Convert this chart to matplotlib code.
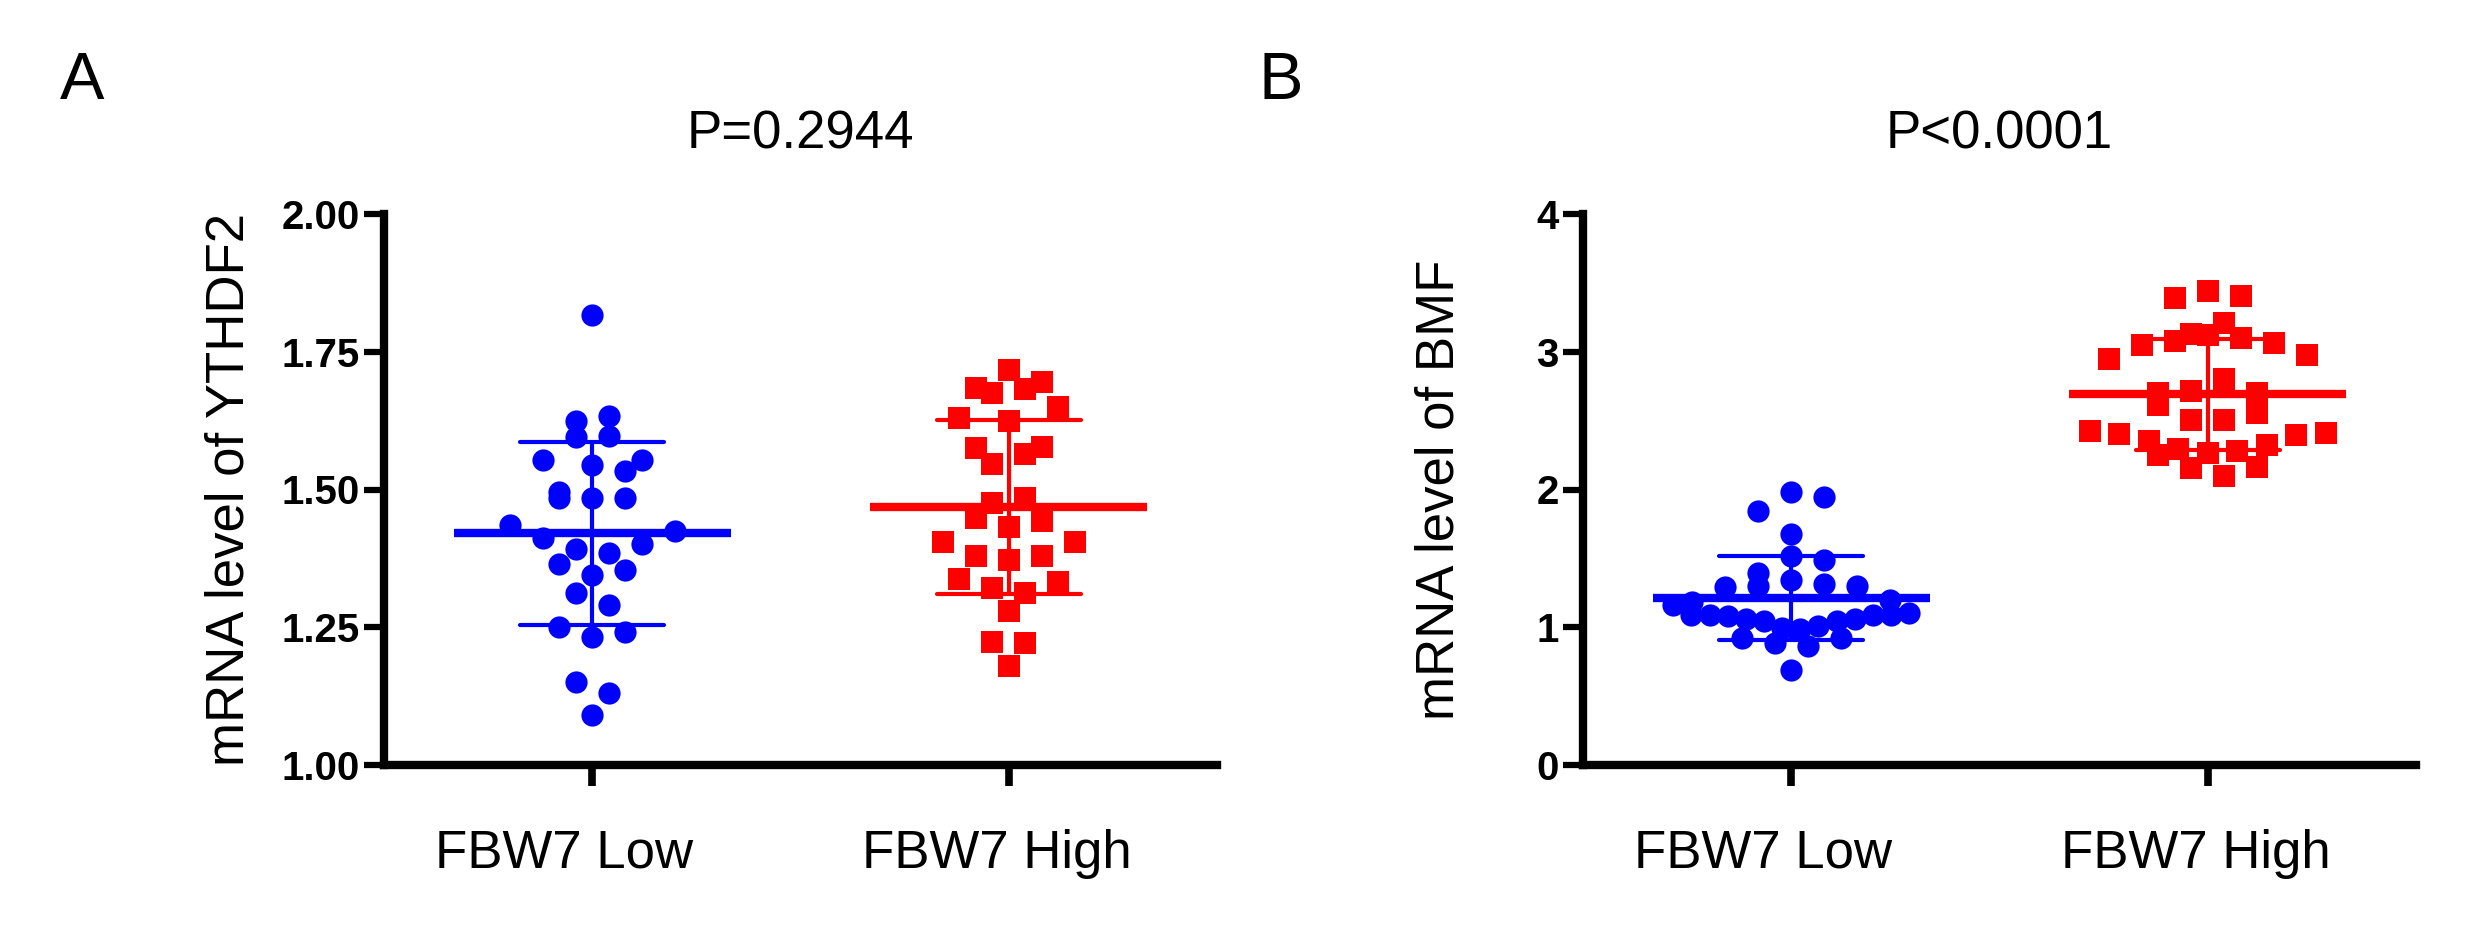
import numpy as np
import matplotlib
matplotlib.use("Agg")
import matplotlib.pyplot as plt
from matplotlib.transforms import ScaledTranslation

plt.rcParams['font.family'] = ['Liberation Sans', 'DejaVu Sans']

#------------------------------------------------------------------------------
# values
groups = ['FBW7 Low', 'FBW7 High']

a_low = [1.817, 1.625, 1.633, 1.595, 1.597, 1.554, 1.554, 1.534, 1.544, 1.484,
         1.484, 1.484, 1.495, 1.435, 1.412, 1.425, 1.392, 1.401, 1.384, 1.364,
         1.353, 1.344, 1.313, 1.291, 1.242, 1.232, 1.251, 1.150, 1.130, 1.090]
a_high = [1.717, 1.675, 1.684, 1.695, 1.683, 1.650, 1.630, 1.624, 1.575, 1.577,
          1.564, 1.546, 1.485, 1.476, 1.449, 1.443, 1.432, 1.405, 1.405, 1.380,
          1.372, 1.379, 1.333, 1.338, 1.312, 1.321, 1.280, 1.223, 1.221, 1.179]

b_low = [1.983, 1.947, 1.847, 1.680, 1.486, 1.515, 1.394, 1.341, 1.297, 1.292,
         1.297, 1.316, 1.195, 1.181, 1.164, 1.091, 1.086, 1.079, 1.062, 1.042,
         0.994, 0.987, 1.006, 1.042, 1.062, 1.086, 1.091, 1.103, 0.921, 0.885,
         0.865, 0.921, 0.691]
b_high = [3.406, 3.389, 3.438, 3.207, 3.132, 3.103, 3.067, 3.047, 3.076, 3.120,
          2.975, 2.950, 2.800, 2.703, 2.703, 2.713, 2.612, 2.558, 2.504, 2.502,
          2.412, 2.393, 2.355, 2.400, 2.424, 2.296, 2.267, 2.247, 2.279, 2.320,
          2.158, 2.100, 2.160]

a_ticks = [1.00, 1.25, 1.50, 1.75, 2.00]
b_ticks = [0, 1, 2, 3, 4]

a_title = 'P=0.2944'
b_title = 'P<0.0001'
a_ylabel = 'mRNA level of YTHDF2'
b_ylabel = 'mRNA level of BMF'

BLUE = '#0000ff'
RED = '#ff0000'

#------------------------------------------------------------------------------
W, H = 2480, 948

def rect(left, right, top, bottom):
    return [left / W, 1 - bottom / H, (right - left) / W, (bottom - top) / H]

def swarm( vals, px_y, px_x, d=22.0, half_width=118.0 ):
    # GraphPad-like spreading: rows of a fixed pixel height around the
    # median, points in a row laid out from the centre outward
    v = np.asarray(vals, float)
    h = 30.0 / px_y
    edge = np.median(v) - 0.64 * h
    rows = np.floor((v - edge) / h).astype(int)
    m = v.mean()
    off = np.zeros(len(v))
    for r in np.unique(rows):
        idx = np.where(rows == r)[0]
        if v[idx].mean() >= m:
            idx = idx[np.argsort(-v[idx], kind='stable')]
        else:
            idx = idx[np.argsort(v[idx], kind='stable')]
        n = len(idx)
        step = 1.5 * d
        if n > 1:
            step = min(step, 2 * half_width / (n - 1))
        base = 0.0 if n % 2 else 0.5
        slots = []
        k = 0
        while len(slots) < n:
            if base == 0.0 and k == 0:
                slots.append(0.0)
            else:
                slots.append(base + k)
                slots.append(-(base + k))
            k += 1
        for j, i in enumerate(idx):
            off[i] = slots[j] * step
    return off / px_x

def panel( ax, lo, hi, ylim, ticks, fmt, title, label_x, ylabel ):
    px_x = ax_w / 2.0
    px_y = ax_h / (ylim[1] - ylim[0])
    for x, vals, col, mk in [(0, lo, BLUE, 'o'), (1, hi, RED, 's')]:
        vals = np.asarray(vals)
        off = swarm(vals, px_y, px_x)
        ax.scatter(x + off, vals, s=16**2, marker=mk, color=col,
                   linewidths=0, zorder=3, clip_on=False)
        m = vals.mean()
        sd = vals.std(ddof=1)
        ax.hlines(m, x - 0.333, x + 0.333, color=col, lw=6, zorder=4)
        ax.vlines(x, m - sd, m + sd, color=col, lw=3, zorder=4)
        c = ax.hlines([m - sd, m + sd], x - 0.173, x + 0.173, color=col,
                      lw=3, zorder=4)
        c.set_capstyle('round')

    ax.set_xlim(-0.5, 1.5)
    ax.set_ylim(*ylim)
    for s in ['top', 'right']:
        ax.spines[s].set_visible(False)
    for s in ['left', 'bottom']:
        ax.spines[s].set_linewidth(6)
        ax.spines[s].set_capstyle('projecting')

    ax.set_yticks(ticks, labels=[fmt % t for t in ticks],
                  fontsize=29, fontweight='bold')
    ax.set_xticks([0, 1], labels=groups, fontsize=38)
    ax.tick_params(axis='y', length=14.5, width=4.5, pad=3)
    ax.tick_params(axis='x', length=15, width=5.5, pad=31)
    for lbl, dx in zip(ax.get_xticklabels(), [-28, -12]):
        lbl.set_transform(lbl.get_transform() +
                          ScaledTranslation(dx / 100.0, 0, fig.dpi_scale_trans))

    ax.set_title(title, fontsize=38, pad=47)
    fig.text(label_x / W, 1 - 490 / H, ylabel, rotation=90, fontsize=38,
             ha='center', va='center')

#------------------------------------------------------------------------------
fig = plt.figure(figsize=(24.8, 9.48), dpi=100)

ax_w, ax_h = 2416 - 1583, 765 - 214
axA = fig.add_axes(rect(384, 1217, 214, 765))
axB = fig.add_axes(rect(1583, 2416, 214, 765))

panel(axA, a_low, a_high, (1.0, 2.0), a_ticks, '%.2f', a_title, 229, a_ylabel)
panel(axB, b_low, b_high, (0.0, 4.0), b_ticks, '%d', b_title, 1439, b_ylabel)

fig.text(60 / W, 1 - 99 / H, 'A', fontsize=48, ha='left', va='baseline')
fig.text(1259 / W, 1 - 99 / H, 'B', fontsize=48, ha='left', va='baseline')

fig.savefig('out.png', dpi=100)
